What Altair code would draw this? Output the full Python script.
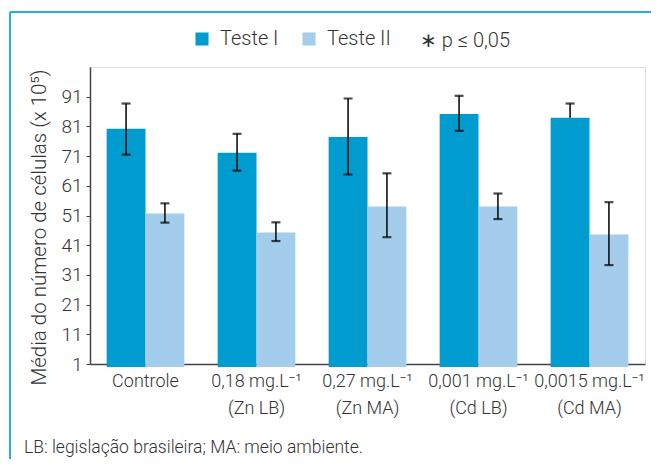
import altair as alt
import pandas as pd

groups = ["Controle", "0,18 mg.L⁻¹|(Zn LB)", "0,27 mg.L⁻¹|(Zn MA)",
          "0,001 mg.L⁻¹|(Cd LB)", "0,0015 mg.L⁻¹|(Cd MA)"]
series = ["Teste I", "Teste II"]
teste1 = [80.2, 72.1, 77.4, 85.2, 83.9]
teste1_lo = [71.5, 66.1, 64.8, 79.5, 83.9]
teste1_hi = [88.7, 78.5, 90.4, 91.3, 88.7]
teste2 = [51.7, 45.3, 54.0, 54.0, 44.6]
teste2_lo = [48.6, 42.4, 43.7, 49.8, 34.3]
teste2_hi = [55.1, 48.7, 65.2, 58.4, 55.5]
y_ticks = [1, 11, 21, 31, 41, 51, 61, 71, 81, 91]
colors = ["#009ccf", "#a3cdea"]

rows = []
for i, g in enumerate(groups):
    rows.append({"grupo": g, "serie": series[0], "media": teste1[i], "lo": teste1_lo[i], "hi": teste1_hi[i]})
    rows.append({"grupo": g, "serie": series[1], "media": teste2[i], "lo": teste2_lo[i], "hi": teste2_hi[i]})
df = pd.DataFrame(rows)

FONT = "Roboto"
FW = 300
W, H = 555, 297

x = alt.X("grupo:N", sort=groups,
          scale=alt.Scale(paddingInner=0.3, paddingOuter=0.15),
          axis=alt.Axis(title=None, labelAngle=0, ticks=False, domainColor="#444",
                        domainWidth=1.5, labelFontSize=18, labelColor="#333",
                        labelFont=FONT, labelFontWeight=FW, labelPadding=8, labelLineHeight=27,
                        labelExpr="split(datum.label, '|')"))
xo = alt.XOffset("serie:N", sort=series, scale=alt.Scale(paddingInner=0, paddingOuter=0))
yscale = alt.Scale(domain=[1, 101], nice=False, zero=False)
yaxis = alt.Axis(values=y_ticks, grid=False, title="Média do número de células (x 10⁵)",
                 titleFontSize=20.5, titleFontWeight=FW, titleColor="#333",
                 titleFont=FONT, titlePadding=11, titleY=160, labelFontSize=19,
                 labelFontWeight=FW, labelOverlap=False,
                 labelColor="#333", labelFont=FONT, tickSize=4, tickColor="#444",
                 domainColor="#444", domainWidth=1.5, labelPadding=4)

base = alt.Chart(df)

bars = base.mark_bar().encode(
    x=x, xOffset=xo,
    y=alt.Y("media:Q", scale=yscale, axis=yaxis),
    color=alt.Color("serie:N", sort=series,
                    scale=alt.Scale(domain=series, range=colors),
                    legend=alt.Legend(title=None, orient="none", legendX=102, legendY=-38,
                                      direction="horizontal", symbolType="square",
                                      symbolSize=170, symbolStrokeWidth=0,
                                      labelFontSize=20, labelFont=FONT, labelFontWeight=FW,
                                      labelColor="#333",
                                      columnPadding=20, labelOffset=8)),
)

err = base.mark_rule(color="#111", strokeWidth=1.6).encode(
    x=x, xOffset=xo,
    y=alt.Y("lo:Q", scale=yscale, axis=yaxis), y2="hi:Q")

cap_hi = base.mark_tick(color="#000", thickness=2.2, size=9).encode(
    x=x, xOffset=xo, y=alt.Y("hi:Q", scale=yscale, axis=yaxis))
cap_lo = base.transform_filter("datum.lo < datum.media").mark_tick(
    color="#000", thickness=2.2, size=9).encode(
    x=x, xOffset=xo, y=alt.Y("lo:Q", scale=yscale, axis=yaxis))

frame_top = alt.Chart(pd.DataFrame({"a": [0]})).mark_rule(color="#29aee3", strokeWidth=2).encode(
    x=alt.value(-80), x2=alt.value(W + 6), y=alt.value(-55))
frame_left = alt.Chart(pd.DataFrame({"a": [0]})).mark_rule(color="#29aee3", strokeWidth=2).encode(
    x=alt.value(-80), y=alt.value(-55), y2=alt.value(H + 95))

sig = alt.Chart(pd.DataFrame({"t": ["∗ p ≤ 0,05"]})).mark_text(
    align="left", baseline="middle", fontSize=20, font=FONT, fontWeight=FW, color="#333").encode(
    x=alt.value(330), y=alt.value(-26), text="t:N")

foot = alt.Chart(pd.DataFrame({"t": ["LB: legislação brasileira; MA: meio ambiente."]})).mark_text(
    align="left", baseline="middle", fontSize=17.5, font=FONT, fontWeight=FW, color="#333").encode(
    x=alt.value(-66), y=alt.value(H + 84), text="t:N")

chart = alt.layer(bars, err, cap_hi, cap_lo, frame_top, frame_left, sig, foot).properties(
    width=W, height=H,
    autosize=alt.AutoSizeParams(type="none"),
    padding={"left": 82, "top": 59, "right": 6, "bottom": 95},
).configure_view(stroke=None).configure(background="white")

chart.save("out.html", embed_options={"renderer": "svg", "actions": False})
